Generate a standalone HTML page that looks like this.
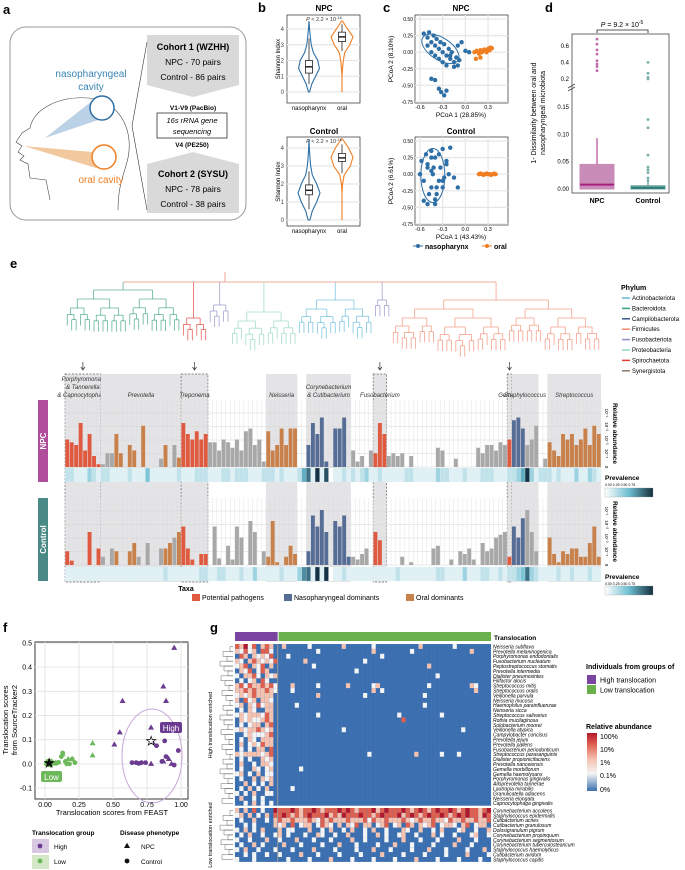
<!DOCTYPE html>
<html><head><meta charset="utf-8"><style>
html,body{margin:0;padding:0;background:#fff;}
svg{display:block;font-family:"Liberation Sans",sans-serif;}
.pl{font-weight:bold;font-size:13px;}
.it{font-style:italic;}
</style></head><body>
<svg id="fig" width="685" height="870" viewBox="0 0 685 870" xmlns="http://www.w3.org/2000/svg">
<g>
<text x="3" y="14" class="pl">a</text>
<rect x="10" y="27" width="236" height="193" rx="16" fill="none" stroke="#999" stroke-width="1"/>
<polygon points="147,35 239,35 239,85 193,97 147,85" fill="#d9d9d9"/>
<polygon points="147,164 193,152 239,164 239,213 147,213" fill="#d9d9d9"/>
<text x="193" y="50" font-size="9" font-weight="bold" text-anchor="middle">Cohort 1 (WZHH)</text>
<text x="193" y="65" font-size="8.5" text-anchor="middle">NPC - 70 pairs</text>
<text x="193" y="80" font-size="8.5" text-anchor="middle">Control - 86 pairs</text>
<text x="193" y="177" font-size="9" font-weight="bold" text-anchor="middle">Cohort 2 (SYSU)</text>
<text x="193" y="192" font-size="8.5" text-anchor="middle">NPC - 78 pairs</text>
<text x="193" y="207" font-size="8.5" text-anchor="middle">Control - 38 pairs</text>
<text x="193" y="110" font-size="6.5" font-weight="bold" text-anchor="middle">V1-V9 (PacBio)</text>
<rect x="157" y="113" width="70" height="25" fill="#fff" stroke="#333" stroke-width="0.8"/>
<text x="192" y="123" font-size="7.5" class="it" text-anchor="middle">16s rRNA gene</text>
<text x="192" y="134" font-size="7.5" class="it" text-anchor="middle">sequencing</text>
<text x="192" y="147" font-size="6.5" font-weight="bold" text-anchor="middle">V4 (PE250)</text>
<polyline points="147,42 132,126 147,210" fill="none" stroke="#333" stroke-width="0.6"/>
<path d="M45,138 L92,101 L110,116 Z" fill="#aac6e0" opacity="0.8"/>
<path d="M24,146 L92,152 L96,168 Z" fill="#f1c394" opacity="0.9"/>
<path d="M30,128 C34,108 60,96 88,98 C118,100 134,128 128,158 C124,175 118,185 118,210 M30,128 L22,133 L16,142 L22,146 L18,152 L24,156 L20,160 L28,164 L30,178 L46,180 L50,200" fill="none" stroke="#444" stroke-width="0.6"/>
<circle cx="102" cy="108" r="12" fill="#fff" stroke="#2e6fa5" stroke-width="1.5"/>
<circle cx="104" cy="157" r="12" fill="#fff" stroke="#f07e22" stroke-width="1.5"/>
<text x="91" y="77" font-size="10" fill="#3a84b5" text-anchor="middle">nasopharyngeal</text>
<text x="91" y="90" font-size="10" fill="#3a84b5" text-anchor="middle">cavity</text>
<text x="101" y="183" font-size="10" fill="#f07e22" text-anchor="middle">oral cavity</text>
</g>
<text x="258" y="12" class="pl">b</text>
<text x="324" y="11" font-size="8" font-weight="bold" text-anchor="middle">NPC</text>
<text x="324" y="134" font-size="8" font-weight="bold" text-anchor="middle">Control</text>
<text x="383" y="12" class="pl">c</text>
<text x="461" y="11" font-size="8" font-weight="bold" text-anchor="middle">NPC</text>
<text x="461" y="134" font-size="8" font-weight="bold" text-anchor="middle">Control</text>
<text x="545" y="12" class="pl">d</text>
<text x="10" y="268" class="pl">e</text>
<text x="3" y="632" class="pl">f</text>
<text x="210" y="632" class="pl">g</text>
<g id="layer"></g>
</svg>
<script>
const NS='http://www.w3.org/2000/svg';
const root=document.getElementById('layer');
function mk(tag,a,txt){const el=document.createElementNS(NS,tag);for(const k in a)el.setAttribute(k,a[k]);if(txt!==undefined)el.textContent=txt;root.appendChild(el);return el;}

/* ---------- Panel b data ---------- */
const violinLevels=[0,0.5,1,1.5,2,2.5,3,3.5,4,4.5];
const npcNasoDensity=[0.05,0.25,0.6,0.95,0.8,0.4,0.2,0.12,0.05,0];
const npcOralDensity=[0,0,0,0.05,0.12,0.25,0.7,1,0.5,0.05];
const ctlNasoDensity=[0.08,0.3,0.7,1,0.7,0.3,0.15,0.08,0.03,0];
const ctlOralDensity=[0,0,0,0,0.05,0.2,0.75,1,0.6,0.05];
const npcNasoBox=[1.2,1.6,2.0,0.5,3.4];
const npcOralBox=[3.2,3.5,3.8,2.6,4.3];
const ctlNasoBox=[1.4,1.65,1.95,0.6,2.7];
const ctlOralBox=[3.25,3.45,3.7,2.6,4.2];
const shannonTicks=[0,1,2,3,4];
function drawViolinPlot(top,bot,y0,y4,tag,dens,boxes){
  const xl=287,xr=360;
  const Y=v=>y0+(y4-y0)*v/4;
  const fr=mk('rect',{x:xl,y:top,width:xr-xl,height:bot-top,fill:'#fff',stroke:'#444','stroke-width':0.8});
  
  
  shannonTicks.forEach(t=>{
    const g=mk('line',{x1:xl,x2:xr,y1:Y(t),y2:Y(t),stroke:'#e6e6e6','stroke-width':1.2});
    
    
    const tx=mk('text',{x:xl-3,y:Y(t)+2,'font-size':6,'text-anchor':'end',fill:'#444'},String(t));
    
    
  });
  const cats=[309,342],cols=['#2e6fa5','#f07e22'];
  cats.forEach((cx,i)=>{
    const d=dens[i];let p='';
    violinLevels.forEach((lv,j)=>{p+=(j?'L':'M')+(cx+d[j]*11)+','+Y(lv);});
    for(let j=violinLevels.length-1;j>=0;j--)p+='L'+(cx-d[j]*11)+','+Y(violinLevels[j]);
    const v=mk('path',{d:p+'Z',fill:'#fff',stroke:cols[i],'stroke-width':1.1});
    
    
    const b=boxes[i];
    const w=mk('line',{x1:cx,x2:cx,y1:Y(b[3]),y2:Y(b[4]),stroke:'#222','stroke-width':0.8});
    
    
    const r=mk('rect',{x:cx-3.5,y:Y(b[2]),width:7,height:Y(b[0])-Y(b[2]),fill:'#fff',stroke:'#222','stroke-width':0.8});
    
    
    const m=mk('line',{x1:cx-3.5,x2:cx+3.5,y1:Y(b[1]),y2:Y(b[1]),stroke:'#222','stroke-width':1.5});
    
    
  });
  const l1=mk('text',{x:309,y:bot+7,'font-size':6,'text-anchor':'middle'},'nasopharynx');
  
  
  const l2=mk('text',{x:342,y:bot+7,'font-size':6,'text-anchor':'middle'},'oral');
  
  
  const yt=mk('text',{x:0,y:0,'font-size':6,'text-anchor':'middle',transform:`translate(280,${(top+bot)/2}) rotate(-90)`},'Shannon Index');
  
  
  const pv=mk('text',{x:324,y:top+6,'font-size':5.5,'text-anchor':'middle',fill:'#333'});
  pv.innerHTML='<tspan font-style="italic">P</tspan> &lt; 2.2 × 10<tspan font-size="4" dy="-2">-16</tspan>';
  
  
}
drawViolinPlot(15,103,92,29,'npc',[npcNasoDensity,npcOralDensity],[npcNasoBox,npcOralBox]);
drawViolinPlot(137,226,220,148,'control',[ctlNasoDensity,ctlOralDensity],[ctlNasoBox,ctlOralBox]);

/* ---------- Panel c data ---------- */
const pcoaXTicks=[-0.6,-0.3,0.0,0.3];
const pcoaYTicks=[0.5,0.25,0,-0.25,-0.5,-0.75];
const npcNasoX=[-0.55,-0.5,-0.48,-0.45,-0.42,-0.4,-0.38,-0.35,-0.33,-0.3,-0.28,-0.25,-0.22,-0.2,-0.18,-0.15,-0.12,-0.1,-0.08,-0.5,-0.45,-0.4,-0.35,-0.3,-0.25,-0.2,-0.15,-0.45,-0.4,-0.35,-0.32,-0.28,-0.25,-0.1,0.05,-0.05,0.0];
const npcNasoY=[0.28,0.22,0.3,0.15,0.25,0.1,0.2,0.05,0.15,0.0,0.12,-0.05,0.05,-0.1,0.0,-0.15,-0.08,-0.2,-0.12,0.1,0.0,-0.05,-0.1,-0.15,-0.2,-0.05,-0.22,-0.4,-0.42,-0.55,-0.6,-0.65,-0.58,0.1,0.0,0.15,0.02];
const npcOralX=[0.12,0.15,0.18,0.2,0.22,0.25,0.27,0.3,0.32,0.35,0.2,0.28,0.33,0.14];
const npcOralY=[0.0,0.02,-0.02,0.03,0.0,0.04,0.02,0.05,0.03,0.06,-0.08,0.0,0.07,-0.1];
const ctlNasoX=[-0.6,-0.58,-0.55,-0.52,-0.5,-0.48,-0.45,-0.43,-0.4,-0.38,-0.35,-0.33,-0.3,-0.28,-0.25,-0.22,-0.2,-0.55,-0.5,-0.45,-0.4,-0.35,-0.3,-0.5,-0.45,-0.4,-0.42,-0.38,-0.45,-0.3,-0.15,-0.1,-0.25];
const ctlNasoY=[0.0,0.2,-0.1,0.3,0.1,-0.3,0.35,0.0,0.25,-0.2,0.3,0.1,0.38,-0.05,0.2,0.0,0.4,-0.4,-0.45,-0.2,-0.38,-0.1,-0.2,0.15,0.05,-0.45,0.1,-0.3,0.25,-0.1,-0.05,-0.2,0.15];
const ctlOralX=[0.18,0.2,0.22,0.24,0.26,0.28,0.3,0.32,0.34,0.36,0.38,0.4];
const ctlOralY=[0.0,0.01,0.0,-0.01,0.0,0.01,0.0,0.0,-0.01,0.0,0.01,0.0];
function drawPcoa(top,bot,tag,nx,ny,ox,oy,xtitle,ytitle,ell){
  const xl=415,xr=508;
  const X=v=>420+(v+0.6)*75.6;
  const Y=v=>top+4+(0.5-v)*(bot-top-5)/1.25;
  const fr=mk('rect',{x:xl,y:top,width:xr-xl,height:bot-top,fill:'#fff',stroke:'#444','stroke-width':0.8});
  
  
  pcoaXTicks.forEach(t=>{
    const g=mk('line',{x1:X(t),x2:X(t),y1:top,y2:bot,stroke:'#e6e6e6','stroke-width':1.2});
    
    
    const tx=mk('text',{x:X(t),y:bot+6,'font-size':5.5,'text-anchor':'middle'},t.toFixed(1));
    
    
  });
  pcoaYTicks.forEach(t=>{
    const g=mk('line',{x1:xl,x2:xr,y1:Y(t),y2:Y(t),stroke:'#e6e6e6','stroke-width':1.2});
    
    
    const tx=mk('text',{x:xl-2,y:Y(t)+2,'font-size':5,'text-anchor':'end'},t.toFixed(2));
    
    
  });
  const e=mk('ellipse',{cx:X(ell[0]),cy:Y(ell[1]),rx:ell[2],ry:ell[3],fill:'none',stroke:'#2e6fa5','stroke-width':1,transform:`rotate(${ell[4]} ${X(ell[0])} ${Y(ell[1])})`});
  
  
  nx.forEach((v,i)=>{
    const c=mk('circle',{cx:X(v),cy:Y(ny[i]),r:2.2,fill:'#2e6fa5'});
    
    
  });
  ox.forEach((v,i)=>{
    const c=mk('circle',{cx:X(v),cy:Y(oy[i]),r:2.2,fill:'#f07e22'});
    
    
  });
  const xt=mk('text',{x:461,y:bot+14,'font-size':6.5,'text-anchor':'middle'},xtitle);
  
  
  const yt=mk('text',{x:0,y:0,'font-size':6.5,'text-anchor':'middle',transform:`translate(393,${(top+bot)/2}) rotate(-90)`},ytitle);
  
  
}
drawPcoa(15,103,'npc',npcNasoX,npcNasoY,npcOralX,npcOralY,'PCoA 1 (28.85%)','PCoA 2 (8.10%)',[-0.33,0.05,21,11,33]);
drawPcoa(137,225,'control',ctlNasoX,ctlNasoY,ctlOralX,ctlOralY,'PCoA 1 (43.43%)','PCoA 2 (6.61%)',[-0.43,-0.02,12,27,0]);
(function(){
  const a=mk('circle',{cx:418,cy:246,r:2,fill:'#2e6fa5'});
  const a2=mk('line',{x1:413,x2:423,y1:246,y2:246,stroke:'#2e6fa5'});
  const t=mk('text',{x:425,y:249,'font-size':7,'font-weight':'bold'},'nasopharynx');
  const b=mk('circle',{cx:487,cy:246,r:2,fill:'#f07e22'});
  const b2=mk('line',{x1:482,x2:492,y1:246,y2:246,stroke:'#f07e22'});
  const t2=mk('text',{x:494,y:249,'font-size':7,'font-weight':'bold'},'oral');
})();

/* ---------- Panel d data ---------- */
const dCategories=['NPC','Control'];
const dBoxStats=[[0,0.008,0.045,0.093],[0,0.002,0.006,0.015]];
const dOutliersNPC=[0.3,0.35,0.38,0.42,0.5,0.55,0.62,0.68];
const dOutliersCtl=[0.015,0.02,0.03,0.035,0.04,0.062,0.112,0.127,0.2,0.22,0.27,0.4];
const dLowTicks=[0,0.05,0.1,0.15];
const dHighTicks=[0.2,0.4,0.6];
(function(){
  const xl=572,xr=669,top=34,bot=193;
  const YL=v=>189-547*v;const YH=v=>95.6-83*v;
  const Y=v=>v>0.17?YH(v):YL(v);
  const fr=mk('rect',{x:xl,y:top,width:xr-xl,height:bot-top,fill:'#fff',stroke:'#444','stroke-width':0.8});
  
  dLowTicks.forEach(t=>{const tx=mk('text',{x:xl-3,y:YL(t)+2,'font-size':6,'text-anchor':'end'},t.toFixed(2));});
  dHighTicks.forEach(t=>{const tx=mk('text',{x:xl-3,y:YH(t)+2,'font-size':6,'text-anchor':'end'},t.toFixed(1));});
  const br=mk('path',{d:`M${xl-4},88 L${xl+3},84 M${xl-4},91 L${xl+3},87`,stroke:'#444','stroke-width':0.8,fill:'none'});
  const cx=[597,648],fill=['#c98bb8','#6aa6a2'],med=['#a8207e','#2f7d78'];
  dCategories.forEach((c,i)=>{
    const s=dBoxStats[i];
    const w=mk('line',{x1:cx[i],x2:cx[i],y1:Y(s[2]),y2:Y(s[3]),stroke:med[i],'stroke-width':1});
    const r=mk('rect',{x:cx[i]-17,y:Y(s[2]),width:34,height:Math.max(Y(s[0])-Y(s[2]),1),fill:fill[i],stroke:fill[i]});
    const m=mk('line',{x1:cx[i]-17,x2:cx[i]+17,y1:Y(s[1]),y2:Y(s[1]),stroke:med[i],'stroke-width':2});
    const lb=mk('text',{x:cx[i],y:203,'font-size':7,'font-weight':'bold','text-anchor':'middle'},c);
    (i?dOutliersCtl:dOutliersNPC).forEach(v=>{const o=mk('circle',{cx:cx[i],cy:Y(v),r:1.4,fill:i?'#79aeaa':'#c06aa8'});});
  });
  const b=mk('path',{d:'M597,33 L597,30 L648,30 L648,33',fill:'none',stroke:'#222','stroke-width':0.8});
  const p=mk('text',{x:622,y:27,'font-size':7,'text-anchor':'middle'});p.innerHTML='<tspan font-style="italic">P</tspan> = 9.2 × 10<tspan font-size="5" dy="-3">-5</tspan>';
  const y1=mk('text',{x:0,y:0,'font-size':7,'text-anchor':'middle',transform:'translate(536,113) rotate(-90)'},'1- Dissimilarity between oral and');
  const y2=mk('text',{x:0,y:0,'font-size':7,'text-anchor':'middle',transform:'translate(545,113) rotate(-90)'},'nasopharyngeal microbiota');
})();

/* ---------- Panel e data ---------- */
const taxaRole="RRRRRRRR"+"GGGOOGOOGOGOGGOOGO"+"RRRRRR"+"GGGGGGGGGGGGG"+"OOOOOOO"+"GG"+"BBBBBBBBBB"+"GGGGG"+"RRR"+"GGGGGGGGGGGGGGGGGGGGGGGGGGG"+"R"+"BBBGGG"+"GG"+"OOOOOOOOOOOO";
const npcAbund=[5,4.5,4,8,3,6,2,0.5, 0.5,2.5,2.5,6,2.5,0,4,3,0,7.5,0,0,0,1.5,4,0,4,1.7, 8,6,5,6.5,5,6, 4.5,4.5,3,5,4.5,3.5,5,3,6.5,7,4,5,1, 6.5,3,4,7,4,7,7, 0,0, 4,8,6,9,1,0,7,7,9,0, 3,1,2,0,3, 2.5,8,6, 2,2.5,2,2.5,0,2,0,0,0,0,0,3.5,3,0,0,1.5,0,0,0,0,3.5,2.5,4,4,3,4.5,4, 5, 8.5,9,7,4,5,7.5, 0,1.5, 4.5,3,2,6,5,6,4,5,7,4,7.5,6];
const ctlAbund=[2.5,0.8,0,0,0,6,0,3, 1.5,0,3,2.5,0,0,2.5,4,1.5,0,4,0,0,3,3,4,5,6, 7,3,1,0,2,2, 0,7,1.2,0,3.5,1,7,5,0,8,6,0,2.5, 1.5,8,0.5,0,1.5,3.5,2, 0,0, 2.5,9,7,10,6,0,8,7,9,1.5, 1.5,1,2,3,0, 6,4.5,0, 0,0,0,1.5,0,0.5,0,0,0,0,3,3.5,0,0,1,0,2.5,2,3,1,0,4,2.5,3,5,5.5,6, 1.5, 7,5,8.5,10,6,2.5, 0,0, 5,2,0.5,2.5,2,3,3,1.5,1.5,4,7,1.5];
const npcPrev="2211132122"+"1111211141"+"1111121112"+"2211122122"+"2111222121"+"1125719180"+"1121212311"+"2111112211"+"1113221112"+"1112221112"+"2359312221"+"2111311321";
const ctlPrev="1111111111"+"1111111111"+"1121111111"+"2211221112"+"1131111121"+"1136719190"+"1121111111"+"1111211111"+"1112211113"+"1112211212"+"2347321111"+"2112111211";
const phylumNames=['Actinobacteriota','Bacteroidota','Campilobacterota','Firmicutes','Fusobacteriota','Proteobacteria','Spirochaetota','Synergistota'];
const phylumColors=['#5fb8d8','#3aa07a','#3d5a8f','#f08a70','#8b8fc4','#8fd6bd','#e03b30','#8c7a6a'];
const taxaGroups=[['Porphyromonas','& Tannerella','& Capnocytophaga',0,8,true],['Prevotella','','',8,26,false],['Treponema','','',26,32,true],['Neisseria','','',45,52,false],['Corynebacterium','& Cutibacterium','',54,64,false],['Fusobacterium','','',69,72,true],['Gemella','','',99,100,true],['Staphylococcus','','',100,106,false],['Streptococcus','','',108,120,false]];
const abundTicks=['0','10⁻⁴','10⁻³','10⁻²','10⁻¹'];
(function(){
  const N=120,x0=65,x1=601,bw=(x1-x0)/N;
  const BX=i=>x0+i*bw;
  const roleCol={R:'#e05a40',B:'#566d95',O:'#c8814a',G:'#a8a8a8'};
  taxaGroups.forEach((g,k)=>{
    const r=mk('rect',{x:BX(g[3]),y:374,width:(g[4]-g[3])*bw,height:208,fill:'#e4e4e6'});
    
    if(g[5]){const d=mk('rect',{x:BX(g[3]),y:374,width:(g[4]-g[3])*bw,height:208,fill:'none',stroke:'#666','stroke-width':0.7,'stroke-dasharray':'2,1.5'});
      const ar=mk('path',{d:`M${BX(g[3])+(g[4]-g[3])*bw/2},362 v8 m-2,-3 l2,3 l2,-3`,stroke:'#333','stroke-width':0.7,fill:'none'});}
    const cx=BX(g[3])+(g[4]-g[3])*bw/2;
    const lines=[g[0],g[1],g[2]].filter(s=>s);
    lines.forEach((s,j)=>{
      const y=397-(lines.length-1-j)*8;
      const t=mk('text',{x:cx,y:y,'font-size':6,'font-style':'italic','text-anchor':'middle',fill:'#333'},s);
      
    });
  });
  function panel(top,base,prevTop,arr,prev,tag,lab,labCol){
    const bg=mk('rect',{x:x0,y:top,width:x1-x0,height:base-top,fill:'none'});
    for(let i=0;i<=N;i++){const l=mk('line',{x1:BX(i),x2:BX(i),y1:top,y2:base,stroke:'#dcdcdc','stroke-width':0.4});}
    abundTicks.forEach((t,k)=>{const yy=base-k*13.5;const l=mk('line',{x1:x0,x2:x1,y1:yy,y2:yy,stroke:'#d6d6d6','stroke-width':0.5});
      const tx=mk('text',{x:0,y:0,'font-size':4.5,'text-anchor':'middle',transform:`translate(605,${yy}) rotate(90)`},t);});
    arr.forEach((v,i)=>{
      const h=v*5.5;
      const r=mk('rect',{x:BX(i)+0.3,y:base-h,width:bw-0.6,height:h,fill:roleCol[taxaRole[i]]});
      
      const p=+prev[i]/9;
      const c=p<0.5?`rgb(${Math.round(255-(255-110)*p*2)},${Math.round(255-(255-190)*p*2)},${Math.round(255-(255-210)*p*2)})`:`rgb(${Math.round(110-90*(p-0.5)*2)},${Math.round(190-140*(p-0.5)*2)},${Math.round(210-140*(p-0.5)*2)})`;
      const pr=mk('rect',{x:BX(i),y:prevTop,width:bw+0.2,height:14,fill:c,stroke:'#eee','stroke-width':0.2});
      
    });
    const lb=mk('rect',{x:38,y:top,width:10,height:prevTop+14-top,fill:labCol});
    const lt=mk('text',{x:0,y:0,'font-size':8,'font-weight':'bold',fill:'#fff','text-anchor':'middle',transform:`translate(46,${(top+prevTop+14)/2}) rotate(-90)`},lab);
    const rt=mk('text',{x:0,y:0,'font-size':6.5,'font-weight':'bold','text-anchor':'middle',transform:`translate(613,${(top+base)/2}) rotate(90)`},'Relative abundance');
    const pt=mk('text',{x:605,y:prevTop+12,'font-size':6.5,'font-weight':'bold'},'Prevalence');
    const pl=mk('text',{x:605,y:prevTop+18,'font-size':3.5},'0.00 0.25 0.50 0.75');
  }
  const defs=mk('defs',{});
  defs.innerHTML='<linearGradient id="pg" x1="0" x2="1"><stop offset="0" stop-color="#fff"/><stop offset="0.5" stop-color="#6ebed2"/><stop offset="1" stop-color="#14303d"/></linearGradient><linearGradient id="hg" x1="0" x2="0" y1="1" y2="0"><stop offset="0" stop-color="#3b6fb0"/><stop offset="0.3" stop-color="#f4f4f4"/><stop offset="0.55" stop-color="#f5c2b0"/><stop offset="0.8" stop-color="#e0604f"/><stop offset="1" stop-color="#b2182b"/></linearGradient>';
  panel(400,467,468,npcAbund,npcPrev,'npc','NPC','#b04e9c');
  panel(498,565,567,ctlAbund,ctlPrev,'control','Control','#4a8a86');
  [[605,488],[605,586]].forEach(p=>{const g=mk('rect',{x:p[0],y:p[1],width:48,height:9,fill:'url(#pg)',stroke:'#999','stroke-width':0.3});});
  const groups=[[0,26,1,290],[26,32,6,318],[32,37,4,305],[37,52,5,312],[52,69,0,300],[69,73,4,300],[73,120,3,300]];
  function tree(a,b,y,col,depth){
    const cxs=i=>BX(i)+bw/2;
    if(b-a<=1){const l=mk('line',{x1:cxs(a),x2:cxs(a),y1:y,y2:y+6,stroke:col,'stroke-width':0.8});return cxs(a);}
    const m=a+Math.max(1,Math.round((b-a)*(depth%2?0.4:0.55)));
    const yc=y+Math.min(9,4+ (b-a)*0.4);
    const xl=tree(a,m,yc,col,depth+1),xr=tree(m,b,yc,col,depth+1);
    const h=mk('line',{x1:xl,x2:xr,y1:y,y2:y,stroke:col,'stroke-width':0.8});
    const v1=mk('line',{x1:xl,x2:xl,y1:y,y2:yc,stroke:col,'stroke-width':0.8});
    const v2=mk('line',{x1:xr,x2:xr,y1:y,y2:yc,stroke:col,'stroke-width':0.8});
    return (xl+xr)/2;
  }
  const tops=groups.map(g=>{const c=phylumColors[g[2]];const xm=tree(g[0],g[1],g[3],c+'cc',0);const v=mk('line',{x1:xm,x2:xm,y1:282,y2:g[3],stroke:c+'cc','stroke-width':0.8});return xm;});
  const rl=mk('line',{x1:tops[0],x2:tops[6],y1:282,y2:282,stroke:'#e8907a','stroke-width':0.8});
  const rs=mk('line',{x1:225,x2:225,y1:272,y2:282,stroke:'#e8907a','stroke-width':0.8});
  const pt=mk('text',{x:621,y:290,'font-size':7,'font-weight':'bold'},'Phylum');
  phylumNames.forEach((n,k)=>{const y=298+k*10.4;
    const l=mk('line',{x1:622,x2:630,y1:y,y2:y,stroke:phylumColors[k],'stroke-width':1.5});
    const t=mk('text',{x:632,y:y+2,'font-size':6},n);});
  const tx=mk('text',{x:186,y:591,'font-size':7,'font-weight':'bold','text-anchor':'middle'},'Taxa');
  [['Potential pathogens','#e05a40',192],['Nasopharyngeal dominants','#566d95',284],['Oral dominants','#c8814a',406]].forEach(l=>{
    const r=mk('rect',{x:l[2],y:594,width:8,height:7,fill:l[1]});
    const t=mk('text',{x:l[2]+10,y:600,'font-size':7},l[0]);});
})();

/* ---------- Panel f data ---------- */
const fXTicks=[0,0.25,0.5,0.75,1];
const fYTicks=[0.5,0.4,0.3,0.2,0.1,0,-0.1];
const highNpcFeast=[0.95,0.87,0.89,0.57,0.55,0.78,0.51,0.78,0.93,0.87,0.91,0.79];
const highNpcST=[0.48,0.32,0.26,0.26,0.13,0.15,0.08,0,0,0.01,0.02,0.09];
const highCtlFeast=[0.88,0.98,0.82,0.89,0.64,0.67,0.71,0.86,0.74,0.95,0.69];
const highCtlST=[0.095,0.055,0.075,0.03,0.005,0.005,0.005,0.01,0.005,-0.005,0.002];
const lowNpcFeast=[0.35,0.35,0.13,0.2,0.03,0.05,0.17,0.08];
const lowNpcST=[0.085,0.035,0.04,0.02,0.0,0.01,0.02,0.005];
const lowCtlFeast=[0.01,0.02,0.03,0.04,0.05,0.06,0.08,0.1,0.12,0.15,0.18,0.2,0.22,0.13,0.16,0.02,0.04];
const lowCtlST=[0.0,0.005,-0.003,0.01,0.0,0.004,0.002,0.006,0.03,0.01,0.0,0.02,0.005,0.045,0.0,0.01,-0.005];
(function(){
  const xl=35,xr=188,top=642,bot=799;
  const X=v=>45+v*136;const Y=v=>643+(0.5-v)*241.7;
  const fr=mk('rect',{x:xl,y:top,width:xr-xl,height:bot-top,fill:'#fff',stroke:'#222','stroke-width':0.9});
  fXTicks.forEach(t=>{const g=mk('line',{x1:X(t),x2:X(t),y1:top,y2:bot,stroke:'#e6e6e6','stroke-width':1});
    const tx=mk('text',{x:X(t),y:bot+8,'font-size':7,'text-anchor':'middle'},t.toFixed(2));});
  fYTicks.forEach(t=>{const g=mk('line',{x1:xl,x2:xr,y1:Y(t),y2:Y(t),stroke:'#e6e6e6','stroke-width':1});
    const tx=mk('text',{x:xl-3,y:Y(t)+2.5,'font-size':7,'text-anchor':'end'},t.toFixed(1));});
  const el=mk('ellipse',{cx:152,cy:756,rx:30,ry:47,fill:'none',stroke:'#c9a8d8','stroke-width':1});
  function tri(x,y,c,n){const p=mk('polygon',{points:`${x},${y-3.2} ${x-3},${y+2} ${x+3},${y+2}`,fill:c});}
  function dot(x,y,c,n){const p=mk('circle',{cx:x,cy:y,r:2.4,fill:c});}
  lowCtlFeast.forEach((v,i)=>dot(X(v),Y(lowCtlST[i]),'#6cb85a','f-low-control-point'));
  lowNpcFeast.forEach((v,i)=>tri(X(v),Y(lowNpcST[i]),'#6cb85a','f-low-npc-point'));
  highCtlFeast.forEach((v,i)=>dot(X(v),Y(highCtlST[i]),'#6b3a91','f-high-control-point'));
  highNpcFeast.forEach((v,i)=>tri(X(v),Y(highNpcST[i]),'#6b3a91','f-high-npc-point'));
  [[0.78,0.095],[0.03,0.003]].forEach(s=>{const st=mk('text',{x:X(s[0]),y:Y(s[1])+4,'font-size':12,'text-anchor':'middle',fill:s[1]>0.05?'#fff':'#111',stroke:'#000','stroke-width':0.7},'★');});
  const hb=mk('rect',{x:160,y:722,width:22,height:11,rx:2,fill:'#6b3a91'});
  const ht=mk('text',{x:171,y:731,'font-size':8,fill:'#fff','text-anchor':'middle'},'High');
  const lb=mk('rect',{x:41,y:771,width:21,height:11,rx:2,fill:'#6cb85a'});
  const lt=mk('text',{x:51.5,y:780,'font-size':8,fill:'#fff','text-anchor':'middle'},'Low');
  const xt=mk('text',{x:112,y:815,'font-size':7.5,'text-anchor':'middle'},'Translocation scores from FEAST');
  const y1=mk('text',{x:0,y:0,'font-size':7.5,'text-anchor':'middle',transform:'translate(8,720) rotate(-90)'},'Translocation scores');
  const y2=mk('text',{x:0,y:0,'font-size':7.5,'text-anchor':'middle',transform:'translate(17,720) rotate(-90)'},'from SourceTracker2');
  const g1=mk('text',{x:32,y:835,'font-size':6.5,'font-weight':'bold'},'Translocation group');
  const g2=mk('text',{x:120,y:835,'font-size':6.5,'font-weight':'bold'},'Disease phenotype');
  const k1=mk('rect',{x:32,y:839,width:17,height:14,fill:'#d8c8e2'});
  dot(40,846,'#6b3a91','f-legend-high-dot');
  const k2=mk('rect',{x:32,y:855,width:17,height:14,fill:'#d4e8c8'});
  dot(40,861,'#6cb85a','f-legend-low-dot');
  const t1=mk('text',{x:54,y:849,'font-size':6.5},'High');
  const t2=mk('text',{x:54,y:864,'font-size':6.5},'Low');
  tri(127,846,'#111','f-legend-npc-marker');
  const t3=mk('text',{x:141,y:849,'font-size':6.5},'NPC');
  dot(127,861,'#111','f-legend-control-marker');
  const t4=mk('text',{x:141,y:864,'font-size':6.5},'Control');
})();

/* ---------- Panel g data ---------- */
const highSpecies=['Neisseria subflava','Prevotella melaninogenica','Porphyromonas endodontalis','Fusobacterium nucleatum','Peptostreptococcus stomatis','Prevotella intermedia','Dialister pneumosintes','Filifactor alocis','Streptococcus mitis','Streptococcus oralis','Veillonella parvula','Neisseria mucosa','Haemophilus parainfluenzae','Neisseria sicca','Streptococcus salivarius','Rothia mucilaginosa','Solobacterium moorei','Veillonella atypica','Campylobacter concisus','Prevotella jejuni','Prevotella pallens','Fusobacterium periodonticum','Streptococcus parasanguinis','Dialister propionicifaciens','Prevotella nanceiensis','Gemella morbillorum','Gemella haemolysans','Porphyromonas gingivalis','Alloprevotella tannerae','Lautropia mirabilis','Granulicatella adiacens','Neisseria elongata','Capnocytophaga gingivalis'];
const lowSpecies=['Corynebacterium accolens','Staphylococcus epidermidis','Cutibacterium acnes','Cutibacterium granulosum','Dolosigranulum pigrum','Corynebacterium propinquum','Corynebacterium segmentosum','Corynebacterium tuberculostearicum','Staphylococcus haemolyticus','Cutibacterium avidum','Staphylococcus capitis'];
const highRows=["3241302320020000010000000200000010000000000200000001000000001","2131203310000000000100000000000020000000010000000000000200000","0320212130001000000000000000000000100000000000000000000000000","2102321213000000200000000000001000000000000000000000000000000","1230213020000000001000000000000000000000000002000000000000000","0213013200000000000000000000100000000000000000000000000000000","1022310212000000000000000000000000000000000000010000000000000","0101203100000000000000000000000000000000000000000000000000000","2313223231000200000100000020000012000000000001000000000210001","2232322321000100000000000000000020100000000000000000000020000","1212322220000000000200000000001000000000000010000000000000000","2031202210000000000000000000000000000000000000000000000000000","1202131220000010000000000000000000000000000010000000000000000","0102100220000000000000000000000000000000000000000000000000000","1212221320000000000100000000000000000010000000001000000000000","0212112320000000000000000000000000000003000000000000000000000","0101220230000000000000000000000000000000000000000000000000000","1212232120000000000000000100000000000000000000000000010000000","0012111230000000000000000000000000000000000000000000000000000","0102102220000000000000000000000000000000000000000000000000000","0201213220000000000000000000000000000000000000000000000000000","0101022030000000000000000000000000000000000000000000000000000","2122221230000000000000000000000100000000002000001000100000000","0101002120000000000000000000000000000000000000000000000000000","0200102210000000000000000000000000000000000000000000000000000","0100210120000001000000000000000000000000000000000000000000000","1201020110000000000000000000000000000000000000000000000000000","0100202120000000000000000000000000000000000000000000000000000","0020101020000000000000000000000000000000000000000000000000000","0102010200000100000000000000000000000000000000000000000000000","1010200110000000000000000000000000000000000000000000000000000","0200101000000000000000000000000000000000000000000000000000000","0010201010000000000000000000000000000000000000000000000000000"];
const lowRows=["2020301004333432334323334343233342343334323432343343234332343","1202010203343232343334232433343323433342343234334323434332433","0100200102322322232132322232223132232223212322322132232232232","0010100002120301220132102021302201230120320212301221023012201","1020102000201100020010200102001020010002100200102000120010020","0102001001201000100210010020001002010012001000201001000120010","1001000200100020001000100002001000010002000100010000200010000","0100201000020001000010002000100001000200010000100002000100001","1020010001000100002000010000100020001000010002000100001000200","0010100100100002000100001000010000200001000010000100002000010","1000100000001000010000200001000010000100002000010000100001000"];
(function(){
  const x0=235,x1=491,nc=60,cw=(x1-x0)/nc,rh=4.9,yH=644,yL=808;
  const nHigh=10;
  const cols=['#3b6fb0','#f4f4f4','#f5c2b0','#e0604f','#b2182b'];
  const a1=mk('rect',{x:x0,y:632,width:nHigh*cw,height:9,fill:'#7a45a0'});
  const a2=mk('rect',{x:x0+nHigh*cw+1,y:632,width:(nc-nHigh)*cw-1,height:9,fill:'#6ab04c'});
  const at=mk('text',{x:494,y:640,'font-size':6.5,'font-weight':'bold'},'Translocation');
  function block(rows,names,y0,tag){
    const bg=mk('rect',{x:x0,y:y0,width:x1-x0,height:rows.length*rh,fill:cols[0]});
    rows.forEach((s,r)=>{
      for(let c=0;c<nc;c++){const v=+(s[c]||'0');if(v===0)continue;
        const cell=mk('rect',{x:x0+c*cw,y:y0+r*rh,width:cw,height:rh,fill:cols[v]});
        
        }
      const t=mk('text',{x:493,y:y0+r*rh+rh-0.5,'font-size':5,'font-style':'italic'},names[r]);
      
    });
    for(let c=0;c<=nc;c++){const l=mk('line',{x1:x0+c*cw,x2:x0+c*cw,y1:y0,y2:y0+rows.length*rh,stroke:'#5a86c0','stroke-width':0.2,opacity:0.6});}
    const sp=mk('line',{x1:x0+nHigh*cw,x2:x0+nHigh*cw,y1:y0,y2:y0+rows.length*rh,stroke:'#999','stroke-width':1});
    for(let r=0;r<rows.length-1;r++){const yy=y0+r*rh+rh;const w=3+((r*7)%11);
      const l=mk('path',{d:`M233,${yy-rh/2} H${233-w} V${yy+rh/2} H233`,fill:'none',stroke:'#444','stroke-width':0.4});}
  }
  block(highRows,highSpecies,yH,'g-high');
  block(lowRows,lowSpecies,yL,'g-low');
  const s1=mk('text',{x:0,y:0,'font-size':5.5,'text-anchor':'middle',transform:`translate(212,725) rotate(-90)`},'High translocation enriched');
  const s2=mk('text',{x:0,y:0,'font-size':5.5,'text-anchor':'middle',transform:`translate(212,835) rotate(-90)`},'Low translocation enriched');
  const l1=mk('text',{x:586,y:669,'font-size':7,'font-weight':'bold'},'Individuals from groups of');
  [['High translocation','#7a45a0',675],['Low translocation','#6ab04c',685]].forEach(e=>{
    const r=mk('rect',{x:587,y:e[2],width:9,height:9,fill:e[1]});
    const t=mk('text',{x:600,y:e[2]+7.5,'font-size':7},e[0]);});
  const rt=mk('text',{x:586,y:729,'font-size':7,'font-weight':'bold'},'Relative abundance');
  const gr=mk('rect',{x:587,y:733,width:10,height:58,fill:'url(#hg)'});
  [['100%',737],['10%',750],['1%',763],['0.1%',776],['0%',790]].forEach(e=>{const t=mk('text',{x:600,y:e[1]+2,'font-size':7},e[0]);});
})();
</script>
</body></html>
